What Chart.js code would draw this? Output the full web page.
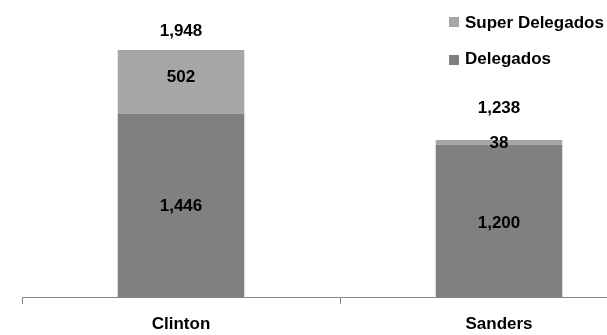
<!DOCTYPE html>
<html>
<head>
<meta charset="utf-8">
<script src="https://cdn.jsdelivr.net/npm/chart.js@4/dist/chart.umd.min.js"></script>
<style>
  html, body { margin: 0; padding: 0; background: #ffffff; overflow: hidden; }
  #frame { width: 607px; height: 335px; overflow: hidden; position: relative; }
  canvas { display: block; }
</style>
</head>
<body>
<div id="frame"><canvas id="chart" width="680" height="335"></canvas></div>
<script>
// Delegate counts per candidate
const categories = ['Clinton', 'Sanders'];
const delegados = [1446, 1200];
const superDelegados = [502, 38];
const seriesNames = ['Delegados', 'Super Delegados'];

const FONT = '"Liberation Sans", Arial, Helvetica, sans-serif';
const fmt = v => v.toLocaleString('en-US');

// Value labels inside each segment, totals above each column, and the legend box
const labelPlugin = {
  id: 'valueLabels',
  afterDatasetsDraw(chart, args, opts) {
    const ctx = chart.ctx;
    ctx.save();
    ctx.font = 'bold 17px ' + FONT;
    ctx.fillStyle = '#000000';
    ctx.textAlign = 'center';
    ctx.textBaseline = 'alphabetic';
    const half = 0.358 * 17; // half of digit height
    chart.data.datasets.forEach((ds, di) => {
      const meta = chart.getDatasetMeta(di);
      meta.data.forEach((bar, i) => {
        const mid = (bar.y + bar.base) / 2 + opts.segmentNudge[di][i];
        ctx.fillText(fmt(ds.data[i]), bar.x, mid + half);
      });
    });
    const topMeta = chart.getDatasetMeta(chart.data.datasets.length - 1);
    topMeta.data.forEach((bar, i) => {
      const total = chart.data.datasets.reduce((s, ds) => s + ds.data[i], 0);
      ctx.fillText(fmt(total), bar.x, bar.y + opts.totalNudge[i] + half);
    });

    // legend, top series first
    ctx.textAlign = 'left';
    const rows = [...chart.data.datasets].reverse();
    rows.forEach((ds, r) => {
      const y = opts.legend.y[r];
      ctx.fillStyle = ds.backgroundColor;
      ctx.fillRect(opts.legend.x, y - 5, 10, 10);
      ctx.fillStyle = '#000000';
      ctx.fillText(ds.label, opts.legend.x + 16, y + opts.legend.baseline[r]);
    });
    ctx.restore();
  }
};

new Chart(document.getElementById('chart'), {
  type: 'bar',
  data: {
    labels: categories,
    datasets: [
      { label: seriesNames[0], data: delegados, backgroundColor: '#808080' },
      { label: seriesNames[1], data: superDelegados, backgroundColor: '#a6a6a6' }
    ]
  },
  options: {
    responsive: false,
    animation: false,
    devicePixelRatio: 1,
    layout: { padding: { left: 22, right: 22, top: 18, bottom: 0 } },
    datasets: { bar: { categoryPercentage: 1, barPercentage: 0.398, borderWidth: 0 } },
    plugins: {
      legend: { display: false },
      tooltip: { enabled: false },
      valueLabels: {
        segmentNudge: [[0, 1], [-6, 0]],
        totalNudge: [-20.5, -32.7],
        legend: { x: 449, y: [22, 60], baseline: [6, 4] }
      }
    },
    scales: {
      x: {
        stacked: true,
        grid: { offset: true, drawOnChartArea: false, tickLength: 7, color: '#868686', lineWidth: 1 },
        border: { display: true, color: '#868686', width: 1 },
        ticks: { color: '#000000', font: { family: FONT, size: 17, weight: 'bold' }, padding: 10 },
        afterFit(axis) { axis.height = 38; }
      },
      y: { stacked: true, display: false, min: 0, max: 2200 }
    }
  },
  plugins: [labelPlugin]
});
</script>
</body>
</html>
